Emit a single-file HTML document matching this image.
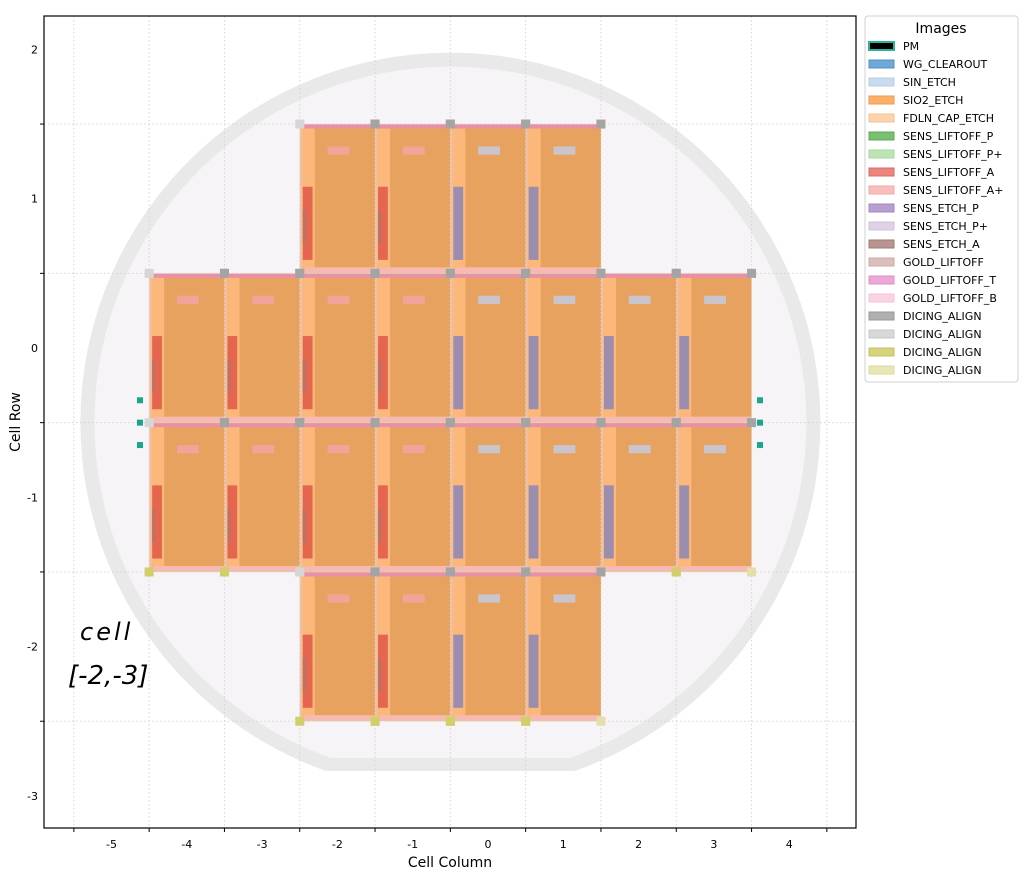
<!DOCTYPE html>
<html><head><meta charset="utf-8">
<style>
body{margin:0;background:#fff;font-family:"Liberation Sans","DejaVu Sans",sans-serif;}
svg text{font-family:"DejaVu Sans","Liberation Sans",sans-serif;}
</style></head>
<body>
<svg id="chart" width="1024" height="878" viewBox="0 0 1024 878" xmlns="http://www.w3.org/2000/svg">
<defs>
<clipPath id="plotclip"><rect x="44" y="16" width="812" height="812"/></clipPath>
<clipPath id="flatOuter"><rect x="0" y="0" width="1024" height="771"/></clipPath>
<clipPath id="flatInner"><rect x="0" y="0" width="1024" height="758"/></clipPath>
</defs>
<rect x="44" y="16" width="812" height="812" fill="#fff"/>
<g clip-path="url(#plotclip)">
 <g id="wafer">
  <circle cx="450.4" cy="422.6" r="370" fill="#e9e9e9" clip-path="url(#flatOuter)"/>
  <circle cx="450.4" cy="422.6" r="356" fill="#f6f4f6" clip-path="url(#flatInner)"/>
 </g>
 <g id="cells"></g>
 <g id="grid"></g>
 <g id="markers"></g>
</g>
<rect x="44" y="16" width="812" height="812" fill="none" stroke="#000" stroke-width="1.2"/>
<g id="axes"></g>
<text x="450" y="867" font-size="14" text-anchor="middle">Cell Column</text>
<text x="20" y="422" font-size="14" text-anchor="middle" transform="rotate(-90 20 422)">Cell Row</text>
<g font-family="'DejaVu Sans',sans-serif" fill="#000">
 <text x="80" y="640" font-size="24" font-style="italic" letter-spacing="3">cell</text>
 <text x="68" y="684" font-size="26" font-style="italic">[-2,-3]</text>
</g>
<g id="legend"></g>
</svg>
<script>
const xTickLabels=[-5,-4,-3,-2,-1,0,1,2,3,4];
const yTickLabels=[2,1,0,-1,-2,-3];
const gridX=[-5.5,-4.5,-3.5,-2.5,-1.5,-0.5,0.5,1.5,2.5,3.5,4.5];
const gridY=[1.5,0.5,-0.5,-1.5,-2.5];
const cellCols=[-2,-1,0,1, -4,-3,-2,-1,0,1,2,3, -4,-3,-2,-1,0,1,2,3, -2,-1,0,1];
const cellRows=[1,1,1,1, 0,0,0,0,0,0,0,0, -1,-1,-1,-1,-1,-1,-1,-1, -2,-2,-2,-2];
const alignX=[-6.1,-6.1,-6.1,2.1,2.1,2.1];
const alignY=[-0.35,-0.5,-0.65,-0.35,-0.5,-0.65];
const legendLabels=["PM","WG_CLEAROUT","SIN_ETCH","SIO2_ETCH","FDLN_CAP_ETCH","SENS_LIFTOFF_P","SENS_LIFTOFF_P+","SENS_LIFTOFF_A","SENS_LIFTOFF_A+","SENS_ETCH_P","SENS_ETCH_P+","SENS_ETCH_A","GOLD_LIFTOFF","GOLD_LIFTOFF_T","GOLD_LIFTOFF_B","DICING_ALIGN","DICING_ALIGN","DICING_ALIGN","DICING_ALIGN"];
const legendColors=["#000","#6fa8d6","#c9dbef","#fdb06a","#fdd3ad","#7abf74","#bde5b3","#ea8580","#f9bfbc","#b9a0d2","#ddd2e6","#b89590","#dcbfbb","#eca9d8","#fbd3e6","#b0b0b0","#d8d8d8","#d6d37a","#e8e6b4"];
const legendEdges=["#2ab59a","#5090c6","#b8cce6","#ee9a50","#f0c098","#5ca858","#a8d6a0","#d86a66","#eeaaaa","#a088c0","#cfc2dc","#a07a76","#ccaaa6","#dc90c8","#f0c0d8","#999","#c8c8c8","#c4c060","#dcdaa0"];

const NS="http://www.w3.org/2000/svg";
const X=v=>488+75.3*v;
const Y=v=>348-149.3*v;
function mk(tag,attrs,parent){const e=document.createElementNS(NS,tag);for(const k in attrs)e.setAttribute(k,attrs[k]);parent.appendChild(e);return e;}
function rectD(x0,x1,yTop,yBot,fill,parent){return mk('rect',{x:X(x0),y:Y(yTop),width:X(x1)-X(x0),height:Y(yBot)-Y(yTop),fill:fill},parent);}

const cellsG=document.getElementById('cells');
for(let i=0;i<cellCols.length;i++){
 const c=cellCols[i],r=cellRows[i];
 const g=mk('g',{},cellsG);
 
 
 rectD(c-0.5,c+0.5,r+0.5,r-0.5,'#eec0a4',g);
 rectD(c-0.47,c+0.5,r+0.48,r-0.48,'#fbb87a',g);
 rectD(c-0.3,c+0.5,r+0.47,r-0.46,'#e7a25f',g);
 rectD(c-0.44,c+0.47,r+0.497,r+0.47,'#e98fa6',g);
 rectD(c-0.44,c+0.5,r-0.46,r-0.49,'#f6bab2',g);
 const neg=c<0;
 rectD(c-0.46,c-0.33,r+0.08,r-0.41,neg?'#e5664e':'#9b8dae',g);
 if(neg) rectD(c-0.46,c-0.42,r-0.08,r-0.3,'#b8736a',g);
 rectD(c-0.13,c+0.16,r+0.35,r+0.295,neg?'#f4a39a':'#cac5cc',g);
}

const gridG=document.getElementById('grid');
gridX.forEach(v=>{const l=mk('line',{x1:X(v),x2:X(v),y1:16,y2:828,stroke:'#d4d4d4','stroke-width':1,'stroke-dasharray':'1.5,2.5'},gridG);});
gridY.forEach(v=>{const l=mk('line',{x1:44,x2:856,y1:Y(v),y2:Y(v),stroke:'#d4d4d4','stroke-width':1,'stroke-dasharray':'1.5,2.5'},gridG);});

const mG=document.getElementById('markers');
const has=(c,r)=>cellCols.some((cc,i)=>cc===c&&cellRows[i]===r);
function marker(x,y,fill){const m=mk('rect',{x:X(x)-4.5,y:Y(y)-4.5,width:9,height:9,fill:fill},mG);}
for(let i=0;i<cellCols.length;i++){
 const c=cellCols[i],r=cellRows[i];
 marker(c-0.5,r+0.5,has(c-1,r)?'#a4a4a4':'#d6d6d6');
 marker(c+0.5,r+0.5,'#a4a4a4');
 if(!has(c,r-1)){
  marker(c-0.5,r-0.5,has(c-1,r)||!has(c-1,r-1)?'#d2ce6a':'#d6d6d6');
  marker(c+0.5,r-0.5,has(c+1,r)?'#d2ce6a':'#e2e0a8');
 }
}
for(let i=0;i<alignX.length;i++){
 const px=alignX[i]<0?140:760;
 const m=mk('rect',{x:px-3,y:Y(alignY[i])-3,width:6,height:6,fill:'#1aa68a'},mG);
 
 
}

const axG=document.getElementById('axes');
gridX.forEach(v=>mk('line',{x1:X(v),x2:X(v),y1:828,y2:832,stroke:'#000'},axG));
gridY.forEach(v=>mk('line',{x1:40,x2:44,y1:Y(v),y2:Y(v),stroke:'#000'},axG));
xTickLabels.forEach(v=>{const t=mk('text',{x:X(v),y:848,'font-size':11,'text-anchor':'middle'},axG);t.textContent=v;});
yTickLabels.forEach(v=>{const t=mk('text',{x:38,y:Y(v)+4,'font-size':11,'text-anchor':'end'},axG);t.textContent=v;});

const lg=document.getElementById('legend');
mk('rect',{x:865,y:16,width:153,height:366,fill:'#fff',stroke:'#d0d0d0',rx:3},lg);
const tt=mk('text',{x:941,y:33,'font-size':14,'text-anchor':'middle'},lg);tt.textContent='Images';


legendLabels.forEach((lab,i)=>{
 const y=46+i*18;
 const g=mk('g',{},lg);
 
 
 mk('rect',{x:869,y:y-4,width:25,height:8,fill:legendColors[i],stroke:legendEdges[i],'stroke-width':i===0?2:1},g);
 const t=mk('text',{x:903,y:y+4,'font-size':11},g);t.textContent=lab;
});
</script>
</body></html>
